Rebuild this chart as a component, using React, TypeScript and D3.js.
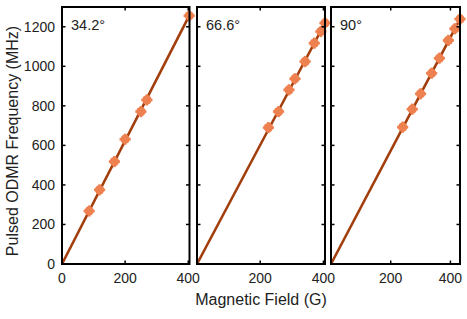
import React from "react";
import * as d3 from "d3";

const panelLabels = ["34.2°", "66.6°", "90°"];
const fieldMax = [404, 405, 432];
const xTickValues = [0, 200, 400];
const yTickValues = [0, 200, 400, 600, 800, 1000, 1200];

const field1 = [86, 119, 166, 200, 250, 269, 403];
const freq1 = [268, 375, 518, 631, 771, 830, 1256];
const field2 = [226, 258, 291, 310, 342, 371, 392, 405];
const freq2 = [690, 771, 881, 937, 1024, 1117, 1176, 1219];
const field3 = [240, 272, 300, 337, 363, 393, 415, 432];
const freq3 = [692, 783, 861, 965, 1041, 1131, 1190, 1239];

const fitField = [[0, 404], [0, 405], [0, 432]];
const fitFreq = [[0, 1259], [0, 1219], [0, 1239]];

const W = 467;
const H = 319;
const panelX: [number, number][] = [[62, 189.5], [197, 325], [331, 460]];
const top = 7;
const bottom = 264;
const font = "Liberation Sans, Arial, sans-serif";
const lineColor = "#A23D0C";
const markerColor = "#EE8150";

export default function App() {
  const y = d3.scaleLinear().domain([0, 1300]).range([bottom, top]);
  const fields = [field1, field2, field3];
  const freqs = [freq1, freq2, freq3];
  return (
    <svg width={W} height={H} style={{ position: "absolute", left: 0, top: 0 }} fontFamily={font}>
      <rect width={W} height={H} fill="white" />
      {panelX.map((px, i) => {
        const x = d3.scaleLinear().domain([0, fieldMax[i]]).range(px);
        const line = d3
          .line<number>()
          .x((d) => x(fitField[i][d]))
          .y((d) => y(fitFreq[i][d]));
        return (
          <g key={i}>
            <path d={line([0, 1]) || ""} stroke={lineColor} strokeWidth={2.6} fill="none" />
            {fields[i].map((f, j) => {
              const cx = x(f);
              const cy = y(freqs[i][j]);
              return (
                <g key={j} fill={markerColor} stroke={markerColor}>
                  <circle cx={cx} cy={cy} r={4.7} stroke="none" />
                  <line x1={cx - 5.6} x2={cx + 5.6} y1={cy} y2={cy} strokeWidth={2.6} />
                  <line x1={cx} x2={cx} y1={cy - 5.6} y2={cy + 5.6} strokeWidth={2.6} />
                </g>
              );
            })}
            <rect x={px[0]} y={top} width={px[1] - px[0]} height={bottom - top} fill="none" stroke="black" strokeWidth={2} />
            {xTickValues.map((t) => (
              <g key={"xt" + t}>
                <line x1={x(t)} x2={x(t)} y1={bottom} y2={bottom - 3.5} stroke="black" strokeWidth={1.5} />
                <line x1={x(t)} x2={x(t)} y1={top} y2={top + 3.5} stroke="black" strokeWidth={1.5} />
                {(i === 0 || t > 0) && (
                  <text x={x(t)} y={bottom + 19} textAnchor="middle" fontSize={14} fill="#222">
                    {t}
                  </text>
                )}
              </g>
            ))}
            {yTickValues.map((t) => (
              <g key={"yt" + t}>
                <line x1={px[0]} x2={px[0] + 3.5} y1={y(t)} y2={y(t)} stroke="black" strokeWidth={1.5} />
                <line x1={px[1]} x2={px[1] - 3.5} y1={y(t)} y2={y(t)} stroke="black" strokeWidth={1.5} />
                {i === 0 && (
                  <text x={px[0] - 7} y={y(t) + 5} textAnchor="end" fontSize={14} fill="#222">
                    {t}
                  </text>
                )}
              </g>
            ))}
            <text x={px[0] + 9} y={top + 23} fontSize={14.5} fill="#222">
              {panelLabels[i]}
            </text>
          </g>
        );
      })}
      <text x={261} y={305} textAnchor="middle" fontSize={16} fill="#222">
        Magnetic Field (G)
      </text>
      <text transform="translate(18,141) rotate(-90)" textAnchor="middle" fontSize={16} fill="#222">
        Pulsed ODMR Frequency (MHz)
      </text>
    </svg>
  );
}
